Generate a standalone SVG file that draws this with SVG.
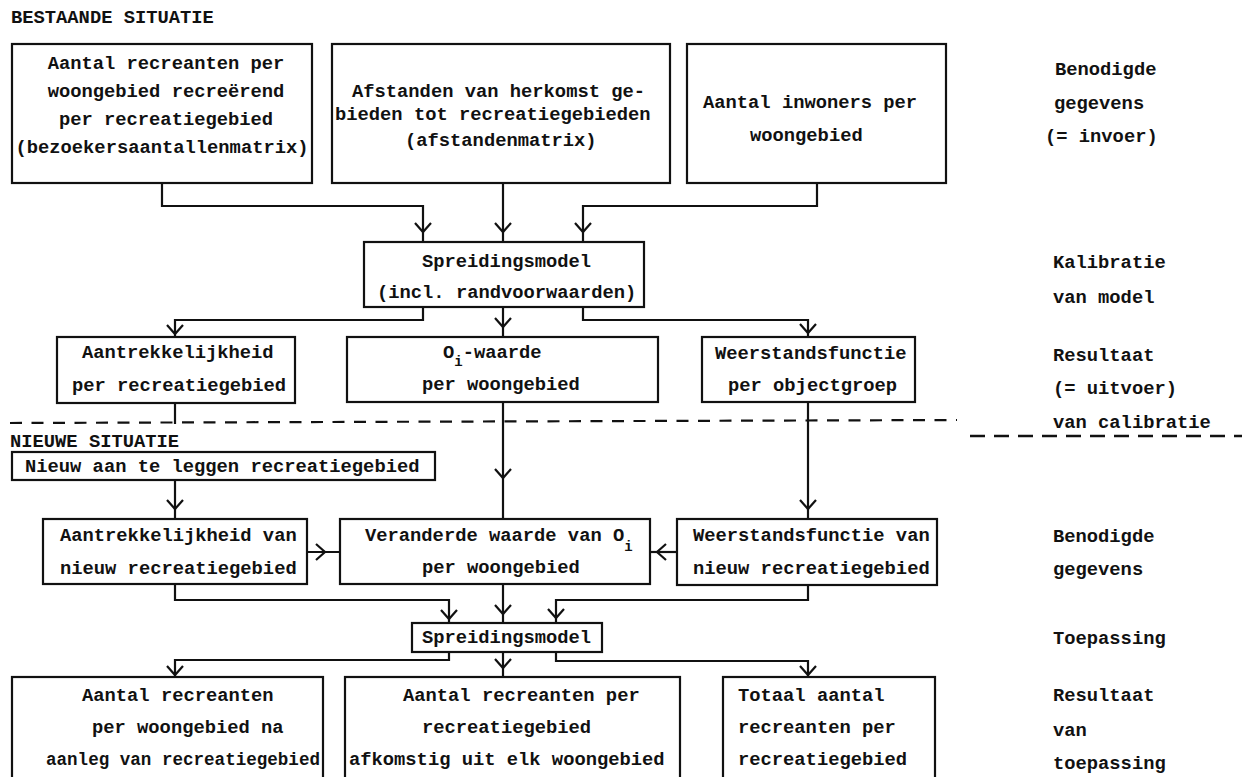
<svg xmlns="http://www.w3.org/2000/svg" xmlns:xlink="http://www.w3.org/1999/xlink" width="1242" height="777" viewBox="0 0 1242 777">
<style>
.box{fill:#fff;stroke:#111;stroke-width:2.2}
.t{font-family:"Liberation Mono","DejaVu Sans Mono",monospace;font-size:18.8px;font-weight:bold;fill:#111}
.m{text-anchor:middle}
.c{fill:none;stroke:#111;stroke-width:2.2}
.sub{font-size:14px}
</style>
<defs>
<path id="chev" d="M -8 -9 L 0 0 L 8 -9" fill="none" stroke="#111" stroke-width="2.2"/>
</defs>
<rect width="1242" height="777" fill="#fff"/>

<g id="headings">
<text class="t" x="11" y="23">BESTAANDE SITUATIE</text>
<text class="t" x="10" y="447">NIEUWE SITUATIE</text>
</g>

<g id="separator">
<line x1="10" y1="423" x2="957" y2="420" stroke="#111" stroke-width="2.2" stroke-dasharray="12 9.5"/>
<line x1="970" y1="436" x2="1242" y2="436" stroke="#111" stroke-width="2.6" stroke-dasharray="15 9"/>
</g>

<g id="connectors">
<path class="c" d="M162 183 V206 H423 V242"/><use xlink:href="#chev" transform="translate(423,232)"/>
<path class="c" d="M503 183 V242"/><use xlink:href="#chev" transform="translate(503,232)"/>
<path class="c" d="M817 183 V206 H583 V242"/><use xlink:href="#chev" transform="translate(583,232)"/>
<path class="c" d="M423 307 V320 H175 V337"/><use xlink:href="#chev" transform="translate(175,334)"/>
<path class="c" d="M503 307 V337"/><use xlink:href="#chev" transform="translate(503,327)"/>
<path class="c" d="M583 307 V320 H808 V337"/><use xlink:href="#chev" transform="translate(808,333)"/>
<path class="c" d="M175 403 V424"/>
<path class="c" d="M503 402 V519"/><use xlink:href="#chev" transform="translate(503,478)"/>
<path class="c" d="M808 402 V519"/><use xlink:href="#chev" transform="translate(808,509)"/>
<path class="c" d="M175 480 V519"/><use xlink:href="#chev" transform="translate(175,509)"/>
<path class="c" d="M307 552 H340"/><use xlink:href="#chev" transform="translate(325,552) rotate(-90)"/>
<path class="c" d="M677 552 H650"/><use xlink:href="#chev" transform="translate(657,552) rotate(90)"/>
<path class="c" d="M175 584 V600 H449 V623"/><use xlink:href="#chev" transform="translate(449,619)"/>
<path class="c" d="M503 584 V623"/><use xlink:href="#chev" transform="translate(503,614)"/>
<path class="c" d="M808 585 V600 H556 V623"/><use xlink:href="#chev" transform="translate(556,618)"/>
<path class="c" d="M449 652 V660 H175 V677"/><use xlink:href="#chev" transform="translate(175,675)"/>
<path class="c" d="M503 652 V677"/><use xlink:href="#chev" transform="translate(503,668)"/>
<path class="c" d="M556 652 V661 H808 V677"/><use xlink:href="#chev" transform="translate(808,675)"/>
</g>

<g id="node-bezoekers">
<rect class="box" x="12" y="44" width="300" height="139"/>
<text class="t m" x="166" y="69">Aantal recreanten per</text>
<text class="t m" x="166" y="97">woongebied recreërend</text>
<text class="t m" x="166" y="125">per recreatiegebied</text>
<text class="t m" x="162" y="153">(bezoekersaantallenmatrix)</text>
</g>

<g id="node-afstanden">
<rect class="box" x="332" y="44" width="338" height="139"/>
<text class="t" x="352" y="97">Afstanden van herkomst ge-</text>
<text class="t" x="335" y="120">bieden tot recreatiegebieden</text>
<text class="t" x="405" y="146">(afstandenmatrix)</text>
</g>

<g id="node-inwoners">
<rect class="box" x="687" y="44" width="259" height="139"/>
<text class="t" x="703" y="108">Aantal inwoners per</text>
<text class="t" x="750" y="141">woongebied</text>
</g>

<g id="node-spreiding1">
<rect class="box" x="364" y="242" width="280" height="65"/>
<text class="t" x="422" y="267">Spreidingsmodel</text>
<text class="t" x="377" y="298">(incl. randvoorwaarden)</text>
</g>

<g id="node-aantrekkelijkheid">
<rect class="box" x="57" y="337" width="238" height="66"/>
<text class="t" x="82" y="358">Aantrekkelijkheid</text>
<text class="t" x="72" y="391">per recreatiegebied</text>
</g>

<g id="node-oi">
<rect class="box" x="347" y="337" width="311" height="65"/>
<text class="t" x="443" y="358">O<tspan class="sub" dy="8">i</tspan><tspan dy="-8">-waarde</tspan></text>
<text class="t" x="422" y="390">per woongebied</text>
</g>

<g id="node-weerstand">
<rect class="box" x="702" y="337" width="213" height="65"/>
<text class="t" x="715" y="359">Weerstandsfunctie</text>
<text class="t" x="728" y="391">per objectgroep</text>
</g>

<g id="node-nieuw">
<rect class="box" x="12" y="452" width="423" height="28"/>
<text class="t" x="25" y="472">Nieuw aan te leggen recreatiegebied</text>
</g>

<g id="node-aantrekkelijkheid-nieuw">
<rect class="box" x="43" y="519" width="264" height="65"/>
<text class="t" x="60" y="541">Aantrekkelijkheid van</text>
<text class="t" x="60" y="574">nieuw recreatiegebied</text>
</g>

<g id="node-oi-nieuw">
<rect class="box" x="340" y="519" width="310" height="65"/>
<text class="t" x="365" y="541">Veranderde waarde van O<tspan class="sub" dy="10">i</tspan></text>
<text class="t" x="422" y="573">per woongebied</text>
</g>

<g id="node-weerstand-nieuw">
<rect class="box" x="677" y="519" width="260" height="66"/>
<text class="t" x="693" y="541">Weerstandsfunctie van</text>
<text class="t" x="693" y="574">nieuw recreatiegebied</text>
</g>

<g id="node-spreiding2">
<rect class="box" x="412" y="623" width="190" height="29"/>
<text class="t" x="422" y="643">Spreidingsmodel</text>
</g>

<g id="node-result1">
<rect class="box" x="12" y="677" width="311" height="110"/>
<text class="t" x="82" y="701">Aantal recreanten</text>
<text class="t" x="92" y="733">per woongebied na</text>
<text class="t" x="46" y="765" textLength="274" lengthAdjust="spacingAndGlyphs">aanleg van recreatiegebied</text>
</g>

<g id="node-result2">
<rect class="box" x="345" y="677" width="335" height="110"/>
<text class="t" x="403" y="701">Aantal recreanten per</text>
<text class="t" x="422" y="733">recreatiegebied</text>
<text class="t" x="349" y="765">afkomstig uit elk woongebied</text>
</g>

<g id="node-result3">
<rect class="box" x="723" y="677" width="212" height="110"/>
<text class="t" x="738" y="701">Totaal aantal</text>
<text class="t" x="738" y="733">recreanten per</text>
<text class="t" x="738" y="765">recreatiegebied</text>
</g>

<g id="side-labels">
<text class="t" x="1055" y="75">Benodigde</text>
<text class="t" x="1054" y="109">gegevens</text>
<text class="t" x="1045" y="142">(= invoer)</text>
<text class="t" x="1053" y="268">Kalibratie</text>
<text class="t" x="1053" y="303">van model</text>
<text class="t" x="1053" y="361">Resultaat</text>
<text class="t" x="1053" y="394">(= uitvoer)</text>
<text class="t" x="1053" y="428">van calibratie</text>
<text class="t" x="1053" y="542">Benodigde</text>
<text class="t" x="1053" y="575">gegevens</text>
<text class="t" x="1053" y="644">Toepassing</text>
<text class="t" x="1053" y="701">Resultaat</text>
<text class="t" x="1053" y="736">van</text>
<text class="t" x="1053" y="769">toepassing</text>
</g>
</svg>
